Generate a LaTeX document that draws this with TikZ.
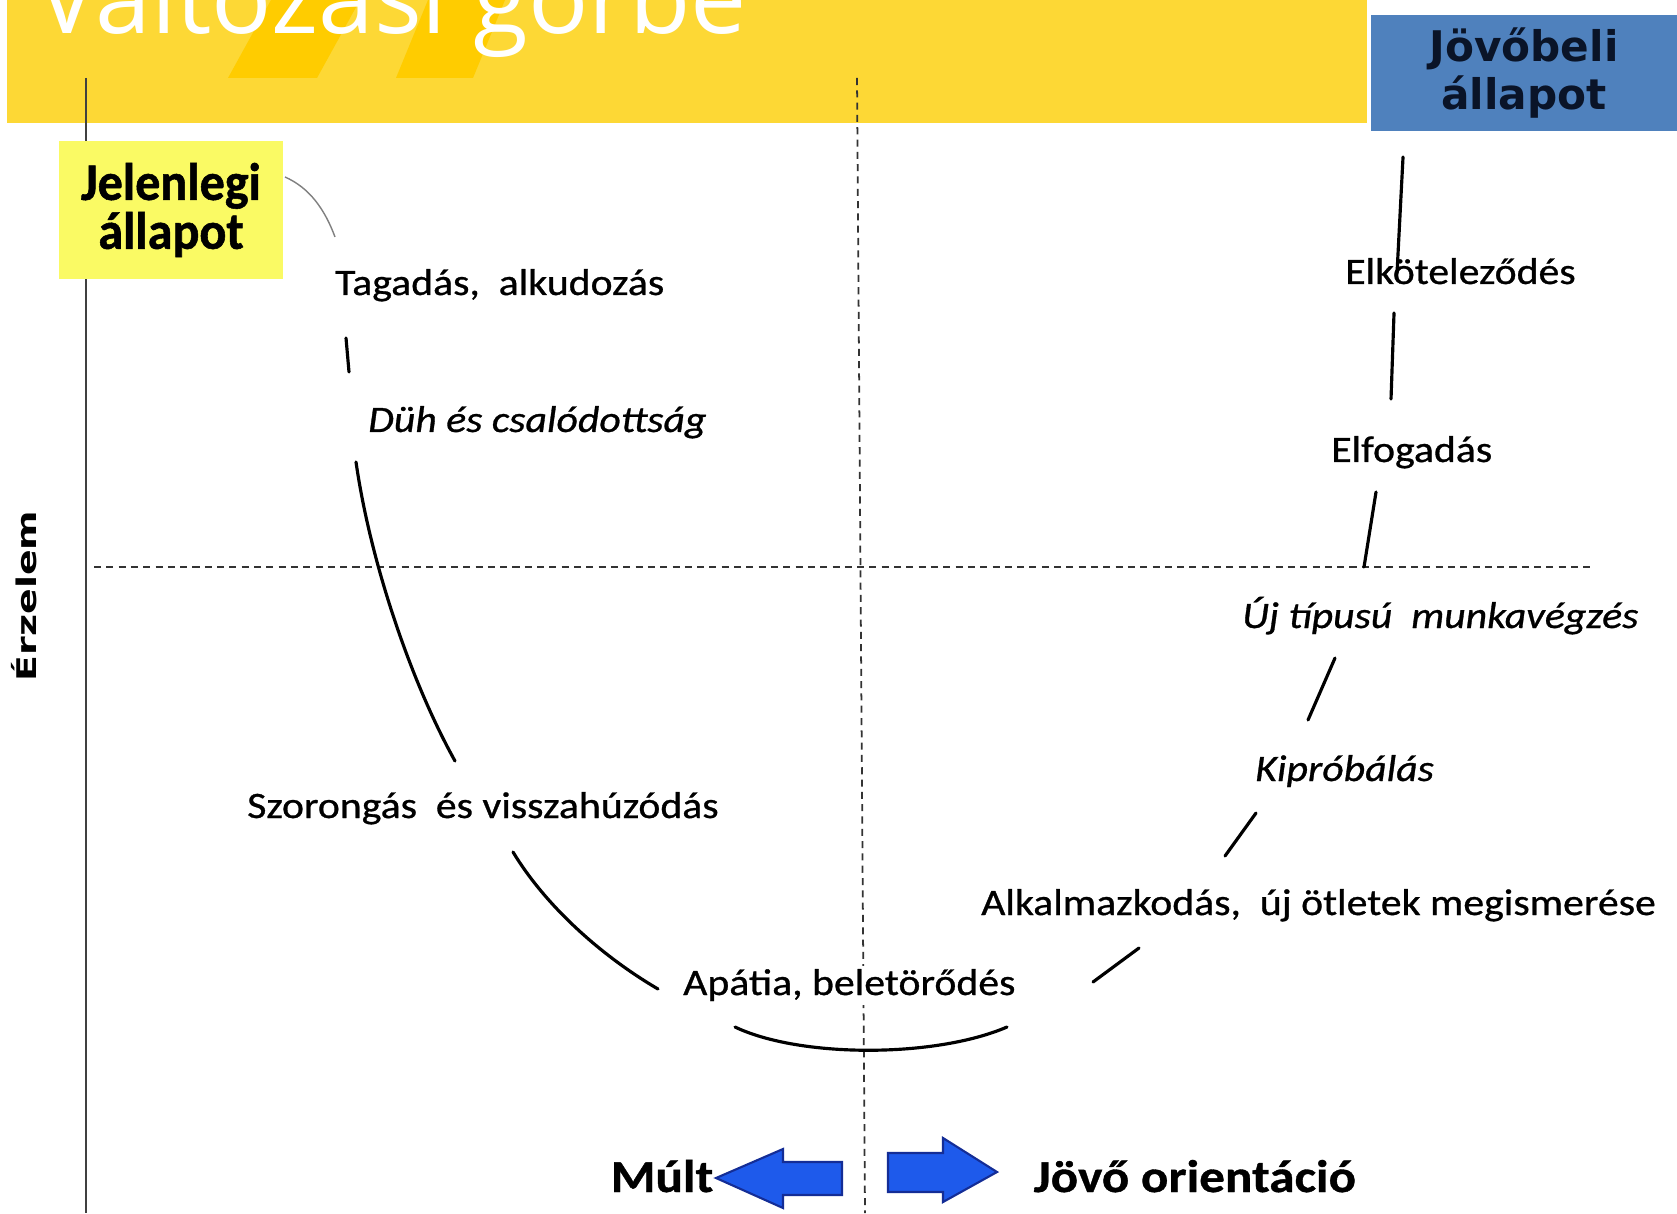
\documentclass[tikz,border=0pt]{standalone}
\usepackage{fontspec}
\usetikzlibrary{arrows,positioning}
\newfontfamily\lblfont[FakeStretch=1.12,FakeBold=0.8]{Carlito}
\newfontfamily\boxfont[FakeStretch=0.95,FakeBold=1]{Carlito}
\newfontfamily\titlefont{Open Sans}
\newfontfamily\blockfont{DejaVu Sans}
\newfontfamily\axisfont[FakeStretch=1.4]{DejaVu Sans}
\newcommand{\tightlines}{\lineskiplimit=-20pt\relax}
\definecolor{bandyellow}{RGB}{253,216,53}
\definecolor{quoteyellow}{RGB}{255,204,0}
\definecolor{nowyellow}{RGB}{250,250,100}
\definecolor{futureblue}{RGB}{79,129,189}
\definecolor{futuretext}{RGB}{10,20,40}
\definecolor{arrowblue}{RGB}{30,90,235}
\definecolor{arrowedge}{RGB}{20,45,150}

\begin{document}
\begin{tikzpicture}[x=0.01cm,y=-0.01cm,
  lbl/.style={anchor=base west, fill=white, inner sep=1pt, font=\lblfont\fontsize{10.6}{12}\selectfont},
  lbli/.style={lbl, font=\lblfont\itshape\fontsize{10.6}{12}\selectfont},
  orient/.style={anchor=base west, inner sep=0pt, font=\lblfont\bfseries\fontsize{13}{15}\selectfont},
  curve/.style={line width=0.9pt, line cap=round},
  guide/.style={black!80, line width=0.5pt, dash pattern=on 2pt off 1.5pt},
  bigarrow/.style={fill=arrowblue, draw=arrowedge, line width=0.6pt}]
\useasboundingbox (0,0) rectangle (1677,1213);
\clip (0,0) rectangle (1677,1213);
\fill[white] (0,0) rectangle (1677,1213);

% title band
\fill[bandyellow] (7,0) rectangle (1367,123);
\fill[quoteyellow] (228,78) -- (317,78) -- (360,0) -- (271,0) -- cycle;
\fill[quoteyellow] (396,78) -- (473,78) -- (505,0) -- (428,0) -- cycle;
\node[anchor=base west, inner sep=0pt, text=white, font=\titlefont\fontsize{28.5}{30}\selectfont] (cim) at (37,34) {Változási görbe};

% axes
\draw[black!75, line width=0.6pt] (86,78) -- (86,1213);
\draw[guide] (857,78) -- (865,1213);
\draw[guide] (94,567) -- (1594,567);
\node[rotate=90, anchor=base, inner sep=0pt, font=\axisfont\bfseries\fontsize{7.7}{9}\selectfont] (erzelem) at (36,596) {Érzelem};

% states
\node[fill=nowyellow, minimum width=2.24cm, minimum height=1.38cm, align=center, inner sep=0pt,
  font=\boxfont\bfseries\fontsize{15}{13.9}\selectfont\tightlines] (jelen) at (171,210) {Jelenlegi\\állapot};
\node[fill=futureblue, minimum width=3.06cm, minimum height=1.16cm, align=center, inner sep=0pt, text=futuretext,
  font=\blockfont\bfseries\fontsize{12}{13.6}\selectfont\tightlines] (jovo) at (1524,73) {Jövőbeli\\állapot};

% phases
\node[lbl]  (tagadas)  at (331,295)  {Tagadás,\ \ alkudozás};
\node[lbli] (duh)      at (364,432)  {Düh és csalódottság};
\node[lbl]  (szorong)  at (243,818)  {Szorongás\ \ és visszahúzódás};
\node[lbl]  (apatia)   at (679,995)  {Apátia, beletörődés};
\node[lbl]  (alkalmaz) at (977,915)  {Alkalmazkodás,\ \ új ötletek megismerése};
\node[lbli] (kiprob)   at (1251,781) {Kipróbálás};
\node[lbli] (ujtip)    at (1238,628) {Új típusú\ \ munkavégzés};
\node[lbl]  (elfogad)  at (1327,462) {Elfogadás};
\node[lbl]  (elkotel)  at (1341,284) {Elköteleződés};

% curve pieces
\coordinate (j1) at (285,177);  \coordinate (j2) at (335,237);
\coordinate (t1) at (346,338);  \coordinate (t2) at (349,372);
\coordinate (d1) at (356,462);  \coordinate (d2) at (455,761);
\coordinate (s1) at (513,852);  \coordinate (s2) at (658,989);
\coordinate (a1) at (735,1027); \coordinate (a2) at (1007,1027);
\coordinate (k1) at (1093,982); \coordinate (k2) at (1139,948);
\coordinate (p1) at (1225,856); \coordinate (p2) at (1256,813);
\coordinate (u1) at (1308,720); \coordinate (u2) at (1335,658);
\coordinate (f1) at (1364,567); \coordinate (f2) at (1376,492);
\coordinate (e1) at (1391,399); \coordinate (e2) at (1394,313);
\coordinate (v1) at (1397,273); \coordinate (v2) at (1403,157);
\draw[gray, line width=0.4pt] (j1) .. controls (310,188) and (325,210) .. (j2);
\draw[curve] (t1) -- (t2);
\draw[curve] (d1) .. controls (370,560) and (410,680) .. (d2);
\draw[curve] (s1) .. controls (545,905) and (600,955) .. (s2);
\draw[curve] (a1) .. controls (800,1058) and (935,1058) .. (a2);
\draw[curve] (k1) -- (k2);
\draw[curve] (p1) -- (p2);
\draw[curve] (u1) -- (u2);
\draw[curve] (f1) -- (f2);
\draw[curve] (e1) -- (e2);
\draw[curve] (v1) -- (v2);

% orientation
\node[orient, anchor=base east] (mult) at (714,1192) {Múlt};
\node[orient] (jovoor) at (1033,1192) {Jövő orientáció};
\filldraw[bigarrow] (842,1162) -- (783,1162) -- (783,1149) -- (716,1178) -- (783,1208) -- (783,1195) -- (842,1195) -- cycle;
\filldraw[bigarrow] (888,1153) -- (943,1153) -- (943,1138) -- (997,1172) -- (943,1202) -- (943,1192) -- (888,1192) -- cycle;
\end{tikzpicture}
\end{document}
